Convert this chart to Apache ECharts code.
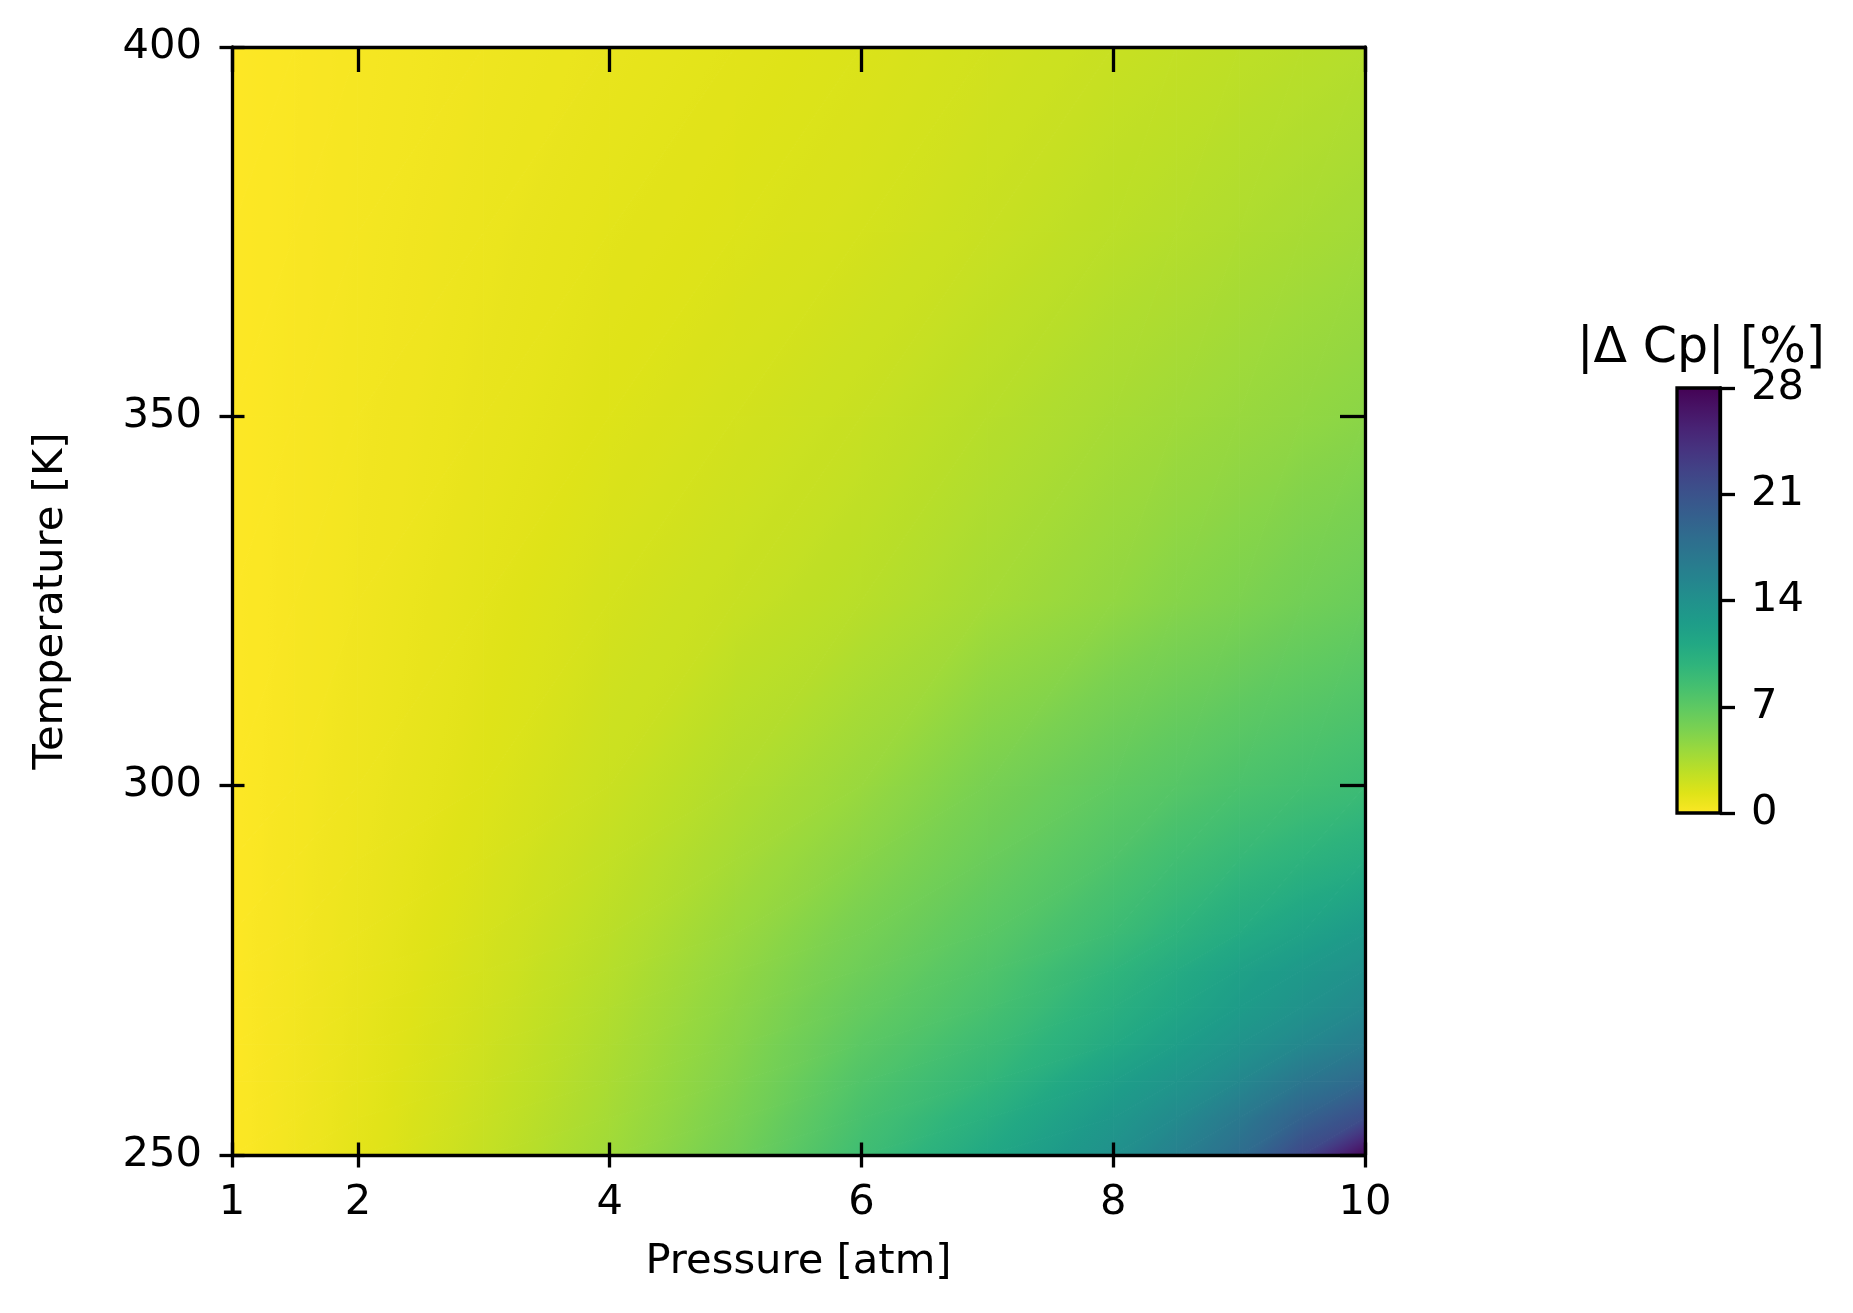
<!DOCTYPE html>
<html>
<head>
<meta charset="utf-8">
<script src="https://cdn.jsdelivr.net/npm/echarts@6/dist/echarts.min.js"></script>
<style>
html,body{margin:0;padding:0;background:#fff;}
#chart{width:1853px;height:1313px;}
</style>
</head>
<body>
<div id="chart"></div>
<script>
// ---- data ----
const PRESSURE = [1, 1.5, 2, 3, 4, 5, 6, 7, 8, 8.5, 9, 9.5, 10];          // atm
const TEMPERATURE = [250, 255, 260, 265, 270, 275, 280, 290, 300, 325, 350, 375, 400]; // K
// |Δ Cp| [%] per temperature row, values at the PRESSURE nodes
const DCP_T250 = [0, 0.55, 1.15, 2.50, 4.00, 6.00, 8.70, 11.2, 14.0, 15.8, 18.0, 22.0, 27.5];
const DCP_T255 = [0, 0.52, 1.10, 2.35, 3.80, 5.65, 8.20, 10.4, 13.2, 14.7, 16.7, 19.3, 21.5];
const DCP_T260 = [0, 0.50, 1.05, 2.22, 3.62, 5.35, 7.70, 9.50, 12.2, 13.5, 15.0, 17.0, 18.5];
const DCP_T265 = [0, 0.48, 1.00, 2.10, 3.45, 5.10, 7.15, 8.85, 11.0, 12.3, 13.7, 15.0, 16.3];
const DCP_T270 = [0, 0.46, 0.95, 2.00, 3.28, 4.85, 6.65, 8.20, 10.3, 11.4, 12.6, 13.8, 14.9];
const DCP_T275 = [0, 0.44, 0.90, 1.90, 3.10, 4.60, 6.20, 7.75, 9.70, 10.8, 12.0, 13.0, 14.0];
const DCP_T280 = [0, 0.42, 0.85, 1.80, 2.92, 4.30, 5.80, 7.25, 8.90, 9.90, 10.9, 11.9, 12.9];
const DCP_T290 = [0, 0.38, 0.78, 1.62, 2.60, 3.75, 5.00, 6.40, 7.80, 8.60, 9.30, 9.95, 10.6];
const DCP_T300 = [0, 0.34, 0.70, 1.45, 2.30, 3.30, 4.30, 5.70, 6.90, 7.45, 8.00, 8.45, 8.90];
const DCP_T325 = [0, 0.27, 0.56, 1.20, 1.85, 2.40, 3.00, 3.80, 4.60, 5.10, 5.50, 6.00, 6.40];
const DCP_T350 = [0, 0.23, 0.47, 0.95, 1.45, 1.90, 2.40, 3.05, 3.70, 4.00, 4.30, 4.60, 4.90];
const DCP_T375 = [0, 0.19, 0.39, 0.80, 1.20, 1.50, 1.85, 2.35, 2.90, 3.15, 3.40, 3.65, 3.90];
const DCP_T400 = [0, 0.16, 0.32, 0.64, 0.95, 1.25, 1.55, 1.95, 2.35, 2.55, 2.75, 2.95, 3.15];
const DELTA_CP = [DCP_T250, DCP_T255, DCP_T260, DCP_T265, DCP_T270, DCP_T275, DCP_T280,
                  DCP_T290, DCP_T300, DCP_T325, DCP_T350, DCP_T375, DCP_T400];

const X_TICKS = [1, 2, 4, 6, 8, 10];
const X_RANGE = [1, 10];
const Y_RANGE = [250, 400];
const Y_STEP = 50;
const CBAR_RANGE = [0, 28];
const CBAR_STEP = 7;

// ---- colormap (viridis, reversed so that 0 = yellow) ----
const VIRIDIS = ['#440154','#471365','#482475','#463480','#414487','#3b528b','#355f8d','#2f6c8e',
  '#2a788e','#25848e','#21918c','#1e9c89','#22a884','#2fb47c','#44bf70','#5ec962','#7ad151',
  '#9bd93c','#bddf26','#dfe318','#fde725'];
const VIR_RGB = VIRIDIS.map(h => [parseInt(h.slice(1,3),16), parseInt(h.slice(3,5),16), parseInt(h.slice(5,7),16)]);
function cmap(v) {
  let t = 1 - (v - CBAR_RANGE[0]) / (CBAR_RANGE[1] - CBAR_RANGE[0]);
  t = Math.max(0, Math.min(1, t));
  const f = t * (VIR_RGB.length - 1);
  const k = Math.min(VIR_RGB.length - 2, Math.floor(f));
  const u = f - k;
  const a = VIR_RGB[k], b = VIR_RGB[k + 1];
  return 'rgb(' + [0,1,2].map(q => Math.round(a[q] + (b[q] - a[q]) * u)).join(',') + ')';
}

function triangle(p0, p1, p2, v0, v1, v2) {
  const vmin = Math.min(v0, v1, v2), vmax = Math.max(v0, v1, v2);
  let fill;
  const d1x = p1[0]-p0[0], d1y = p1[1]-p0[1], d2x = p2[0]-p0[0], d2y = p2[1]-p0[1];
  const det = d1x*d2y - d2x*d1y;
  if (vmax - vmin < 1e-6 || Math.abs(det) < 1e-9) {
    fill = cmap((vmin + vmax) / 2);
  } else {
    const dv1 = v1 - v0, dv2 = v2 - v0;
    const gx = (dv1*d2y - dv2*d1y) / det;
    const gy = (d1x*dv2 - d2x*dv1) / det;
    const g2 = gx*gx + gy*gy;
    const ax = p0[0] + gx*(vmin - v0)/g2, ay = p0[1] + gy*(vmin - v0)/g2;
    const bx = p0[0] + gx*(vmax - v0)/g2, by = p0[1] + gy*(vmax - v0)/g2;
    const stops = [];
    const n = 8;
    for (let k = 0; k < n; k++) {
      stops.push({offset: k/(n-1), color: cmap(vmin + (vmax - vmin) * k/(n-1))});
    }
    fill = new echarts.graphic.LinearGradient(ax, ay, bx, by, stops, true);
  }
  return {
    type: 'polygon',
    shape: {points: [p0, p1, p2]},
    style: {fill: fill, stroke: fill, lineWidth: 1, lineJoin: 'round'},
    silent: true
  };
}

const cells = [];
for (let j = 0; j < TEMPERATURE.length - 1; j++) {
  for (let i = 0; i < PRESSURE.length - 1; i++) {
    cells.push([PRESSURE[i], PRESSURE[i+1], TEMPERATURE[j], TEMPERATURE[j+1], i, j]);
  }
}

function renderCell(params, api) {
  const i = api.value(4), j = api.value(5);
  const a = api.coord([PRESSURE[i], TEMPERATURE[j]]);
  const b = api.coord([PRESSURE[i+1], TEMPERATURE[j]]);
  const c = api.coord([PRESSURE[i], TEMPERATURE[j+1]]);
  const d = api.coord([PRESSURE[i+1], TEMPERATURE[j+1]]);
  const va = DELTA_CP[j][i], vb = DELTA_CP[j][i+1], vc = DELTA_CP[j+1][i], vd = DELTA_CP[j+1][i+1];
  return {type: 'group', children: [triangle(a, b, d, va, vb, vd), triangle(a, d, c, va, vd, vc)]};
}

function renderBar(params, api) {
  const top = api.coord([0, CBAR_RANGE[1]]);
  const bot = api.coord([1, CBAR_RANGE[0]]);
  const stops = [];
  const n = 21;
  for (let k = 0; k < n; k++) {
    stops.push({offset: k/(n-1), color: cmap(CBAR_RANGE[0] + (CBAR_RANGE[1]-CBAR_RANGE[0]) * k/(n-1))});
  }
  return {
    type: 'rect',
    shape: {x: top[0], y: top[1], width: bot[0]-top[0], height: bot[1]-top[1]},
    style: {
      fill: new echarts.graphic.LinearGradient(0, 1, 0, 0, stops),
      stroke: '#000', lineWidth: 3.3
    },
    z2: 1
  };
}

const FONT = 'DejaVu Sans';
const FS = 41.67;
const LINE = {color: '#000', width: 3.3};
const labelStyle = {color: '#000', fontSize: FS, fontFamily: FONT};

const chart = echarts.init(document.getElementById('chart'), null, {renderer: 'canvas'});
chart.setOption({
  backgroundColor: '#fff',
  animation: false,
  textStyle: {fontFamily: FONT},
  grid: [
    {left: 232, top: 47, width: 1133, height: 1108, containLabel: false},
    {left: 1677, top: 388, width: 43, height: 425, containLabel: false}
  ],
  xAxis: [
    { // bottom, outward half of ticks + labels
      type: 'value', gridIndex: 0, position: 'bottom', min: X_RANGE[0], max: X_RANGE[1], z: 10,
      axisLine: {show: true, onZero: false, lineStyle: LINE},
      axisTick: {show: true, inside: false, length: 12.5, lineStyle: LINE, customValues: X_TICKS},
      axisLabel: Object.assign({margin: 27, customValues: X_TICKS}, labelStyle),
      splitLine: {show: false},
      name: 'Pressure [atm]', nameLocation: 'middle', nameGap: 86,
      nameTextStyle: labelStyle
    },
    { // bottom, inward half of ticks
      type: 'value', gridIndex: 0, position: 'bottom', min: X_RANGE[0], max: X_RANGE[1], z: 10,
      axisLine: {show: false, onZero: false},
      axisTick: {show: true, inside: true, length: 12.5, lineStyle: LINE, customValues: X_TICKS},
      axisLabel: {show: false}, splitLine: {show: false}
    },
    { // top frame with inward ticks
      type: 'value', gridIndex: 0, position: 'top', min: X_RANGE[0], max: X_RANGE[1], z: 10,
      axisLine: {show: true, onZero: false, lineStyle: LINE},
      axisTick: {show: true, inside: true, length: 25, lineStyle: LINE, customValues: X_TICKS},
      axisLabel: {show: false}, splitLine: {show: false}
    },
    { // colorbar x (hidden)
      type: 'value', gridIndex: 1, min: 0, max: 1, show: false
    }
  ],
  yAxis: [
    {
      type: 'value', gridIndex: 0, position: 'left', min: Y_RANGE[0], max: Y_RANGE[1], interval: Y_STEP, z: 10,
      axisLine: {show: true, onZero: false, lineStyle: LINE},
      axisTick: {show: true, inside: false, length: 12.5, lineStyle: LINE},
      axisLabel: Object.assign({margin: 30}, labelStyle),
      splitLine: {show: false},
      name: 'Temperature [K]', nameLocation: 'middle', nameGap: 160, nameRotate: 90,
      nameTextStyle: labelStyle
    },
    {
      type: 'value', gridIndex: 0, position: 'left', min: Y_RANGE[0], max: Y_RANGE[1], interval: Y_STEP, z: 10,
      axisLine: {show: false, onZero: false},
      axisTick: {show: true, inside: true, length: 12.5, lineStyle: LINE},
      axisLabel: {show: false}, splitLine: {show: false}
    },
    {
      type: 'value', gridIndex: 0, position: 'right', min: Y_RANGE[0], max: Y_RANGE[1], interval: Y_STEP, z: 10,
      axisLine: {show: true, onZero: false, lineStyle: LINE},
      axisTick: {show: true, inside: true, length: 25, lineStyle: LINE},
      axisLabel: {show: false}, splitLine: {show: false}
    },
    { // colorbar scale
      type: 'value', gridIndex: 1, position: 'right', min: CBAR_RANGE[0], max: CBAR_RANGE[1], interval: CBAR_STEP, z: 10,
      axisLine: {show: true, onZero: false, lineStyle: LINE},
      axisTick: {show: true, inside: false, length: 15, lineStyle: LINE},
      axisLabel: Object.assign({margin: 31}, labelStyle),
      splitLine: {show: false}
    }
  ],
  series: [
    {
      type: 'custom', name: '|Δ Cp| [%]', xAxisIndex: 0, yAxisIndex: 0,
      renderItem: renderCell, data: cells, clip: true, silent: true,
      encode: {x: [0, 1], y: [2, 3]}
    },
    {
      type: 'custom', name: 'colorbar', xAxisIndex: 3, yAxisIndex: 3,
      renderItem: renderBar, data: [[0, 1, CBAR_RANGE[0], CBAR_RANGE[1]]], silent: true,
      encode: {x: [0, 1], y: [2, 3]}
    }
  ],
  graphic: [
    {
      type: 'text', x: 1701, y: 349, silent: true,
      style: {text: '|Δ Cp| [%]', fill: '#000', font: '49px "DejaVu Sans"', align: 'center', verticalAlign: 'middle'}
    }
  ]
});
</script>
</body>
</html>
